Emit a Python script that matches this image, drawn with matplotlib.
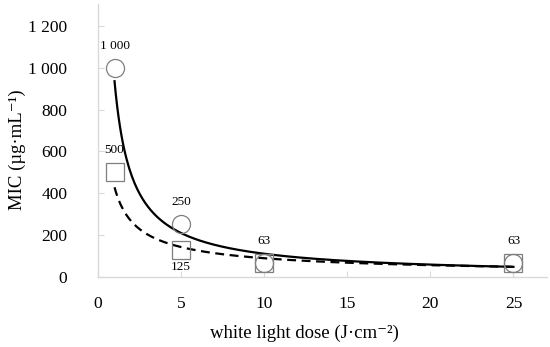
import numpy as np
import matplotlib.pyplot as plt
from matplotlib.ticker import FuncFormatter

plt.rcParams['font.family'] = ['Liberation Serif', 'DejaVu Serif']

dose = [1, 5, 10, 25]
mic_circle = [1000, 250, 63, 63]
mic_square = [500, 125, 63, 63]


def power_fit(x, y):
    b, lna = np.polyfit(np.log(x), np.log(y), 1)
    return np.exp(lna), b


fig = plt.figure(figsize=(5.5, 3.47), dpi=100)
ax = fig.add_axes([0.178, 0.203, 0.816, 0.785])

xs = np.linspace(1, 25, 300)
a1, b1 = power_fit(dose, mic_circle)
a2, b2 = power_fit(dose, mic_square)
ax.plot(xs, a1 * xs ** b1, color='black', lw=1.6, zorder=2)
ax.plot(xs, a2 * xs ** b2, color='black', lw=1.6, ls=(0, (4, 2.5)), zorder=2)

ax.plot(dose, mic_square, ls='none', marker='s', ms=13, mfc='none',
        mec='#7f7f7f', mew=0.9, zorder=3)
ax.plot(dose, mic_circle, ls='none', marker='o', ms=13, mfc='none',
        mec='#7f7f7f', mew=0.9, zorder=3)


def fmt(v):
    return f'{v:,}'.replace(',', ' ')


for i in range(len(dose)):
    ax.annotate(fmt(mic_circle[i]), (dose[i], mic_circle[i]), xytext=(0, 16),
                textcoords='offset points', ha='center', va='center', fontsize=9.5)
ax.annotate(fmt(mic_square[0]), (dose[0], mic_square[0]), xytext=(0, 16),
            textcoords='offset points', ha='center', va='center', fontsize=9.5)
ax.annotate(fmt(mic_square[1]), (dose[1], mic_square[1]), xytext=(0, -12),
            textcoords='offset points', ha='center', va='center', fontsize=9.5)

ax.set_xlim(0, 27)
ax.set_ylim(0, 1305)
ax.set_xticks([0, 5, 10, 15, 20, 25])
ax.set_yticks(range(0, 1201, 200))
ax.yaxis.set_major_formatter(FuncFormatter(lambda v, p: fmt(int(v))))

for s in ['top', 'right']:
    ax.spines[s].set_visible(False)
for s in ['left', 'bottom']:
    ax.spines[s].set_color('#d9d9d9')
    ax.spines[s].set_linewidth(1)
ax.tick_params(direction='in', length=4, color='#d9d9d9', labelsize=12.5)
ax.tick_params(axis='y', pad=22)
ax.tick_params(axis='x', pad=14)

ax.set_xlabel('white light dose (J·cm⁻²)', fontsize=13.5)
ax.set_ylabel('MIC (µg·mL⁻¹)', fontsize=13.5)
ax.xaxis.set_label_coords(0.461, -0.178)
ax.yaxis.set_label_coords(-0.16, 0.465)

plt.savefig('out.png', dpi=100)
